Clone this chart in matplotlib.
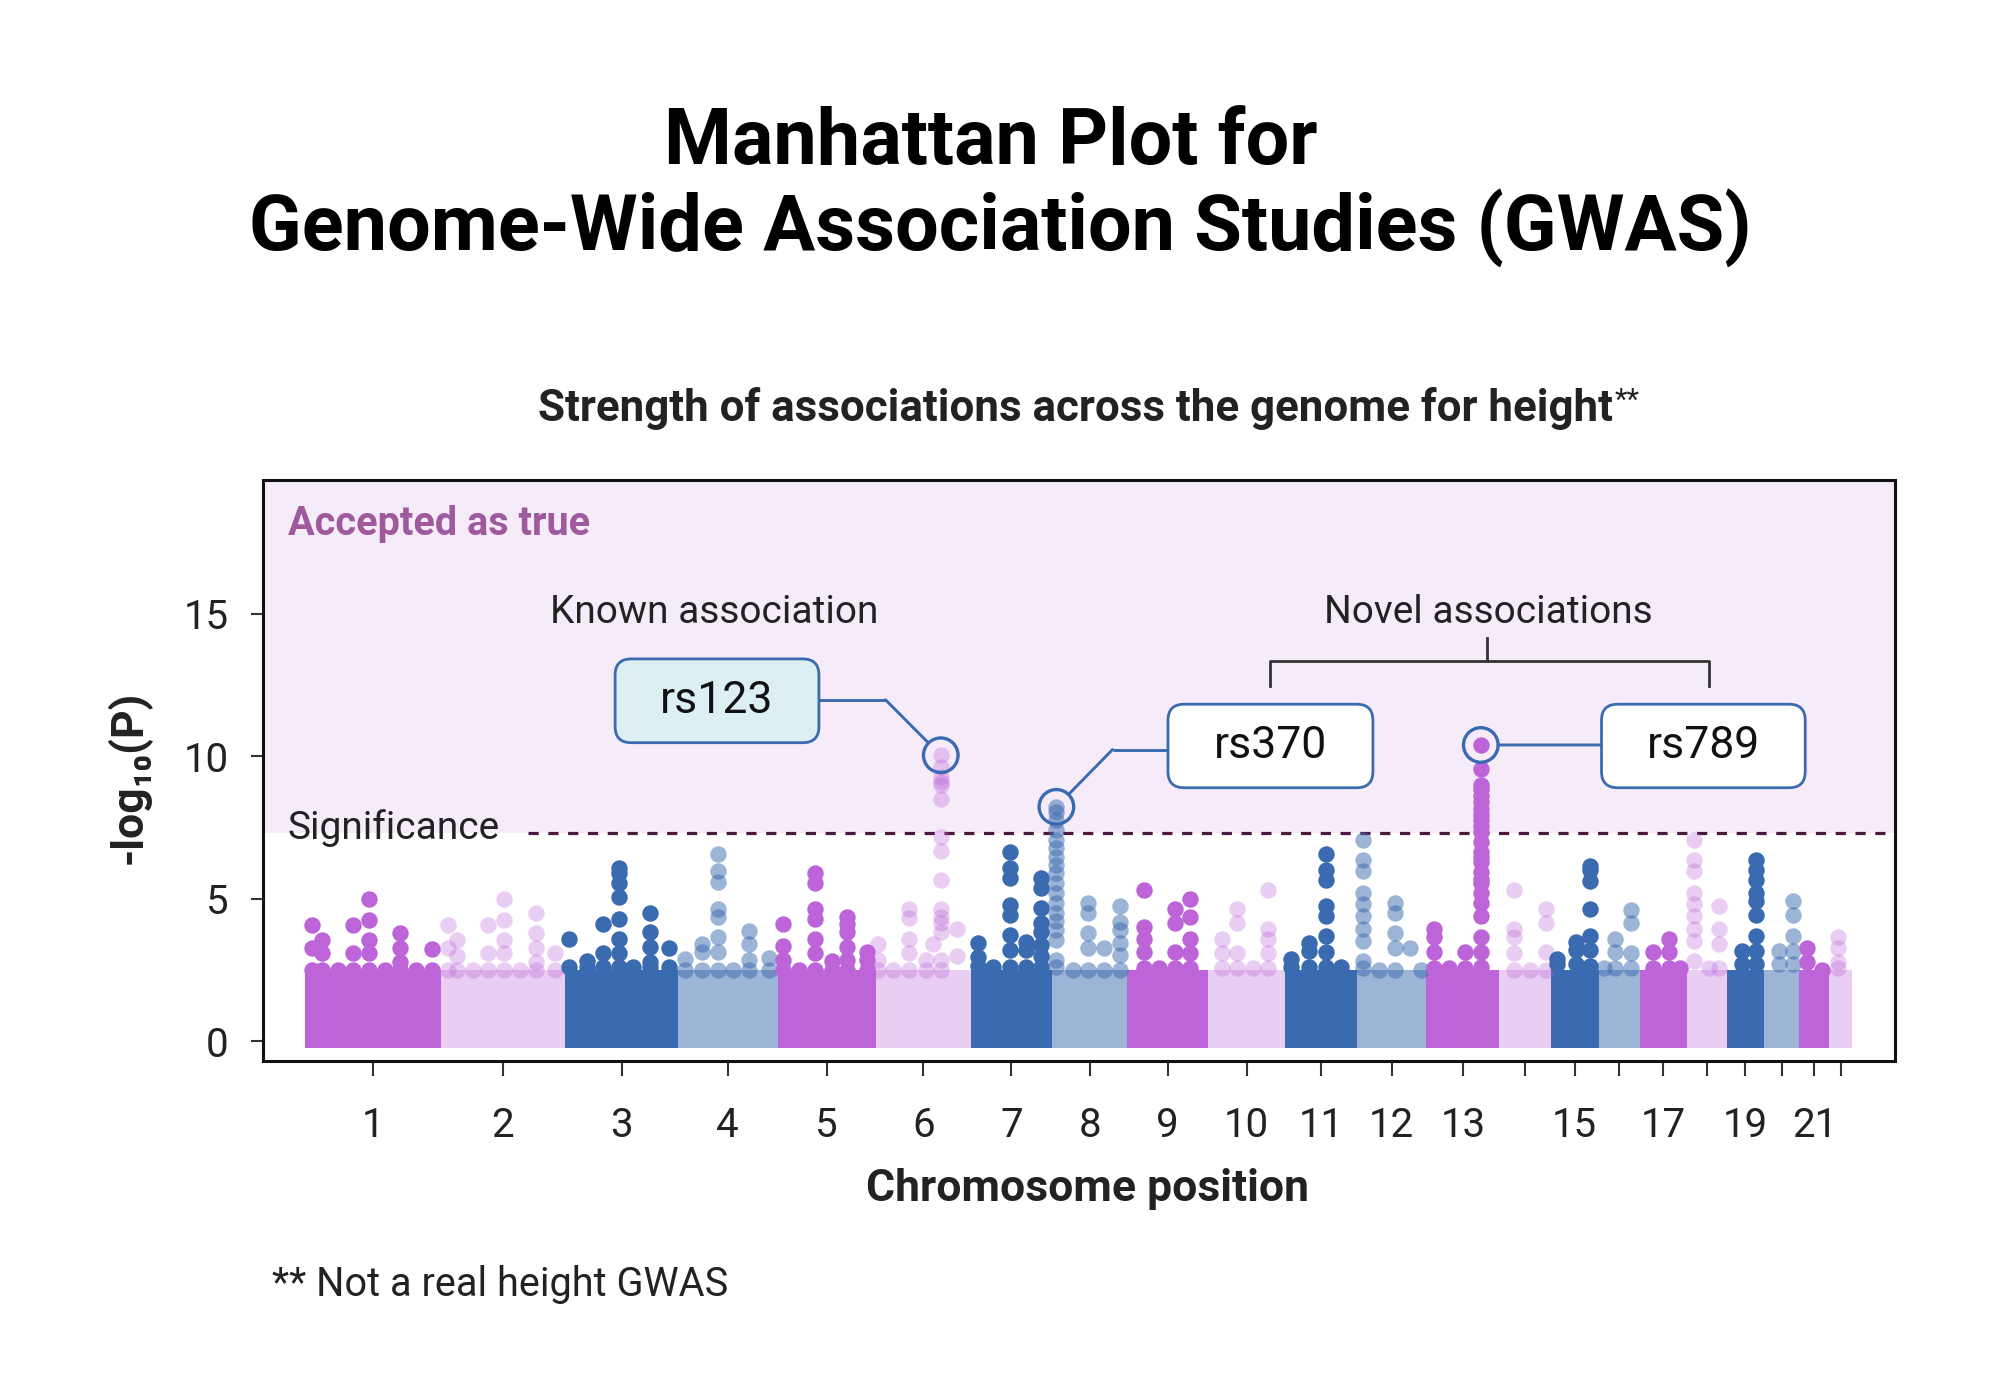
import matplotlib
matplotlib.use("Agg")
import matplotlib.pyplot as plt
from matplotlib.patches import FancyBboxPatch
from matplotlib.colors import to_rgba

plt.rcParams['font.family'] = ['Roboto', 'DejaVu Sans']

# ---------------- data ----------------
chrom_names = [str(i) for i in range(1, 23)]
chrom_len = [252, 232, 209, 186, 182, 177, 151, 140, 150, 143, 133, 130,
             135, 96, 89, 77, 87, 74, 69, 66, 56, 42]
tick_labels = ['1', '2', '3', '4', '5', '6', '7', '8', '9', '10', '11', '12',
               '13', '', '15', '', '17', '', '19', '', '21', '']
base_top = 2.5
base_bottom = -0.25
sig_threshold = 7.3

col_chrom = [1, 1, 1, 1, 1, 1, 1, 1, 1,
             2, 2, 2, 2, 2, 2, 2, 2,
             3, 3, 3, 3, 3, 3, 3,
             4, 4, 4, 4, 4, 4,
             5, 5, 5, 5, 5, 5,
             6, 6, 6, 6, 6, 6, 6,
             7, 7, 7, 7, 7,
             8, 8, 8, 8, 8,
             9, 9, 9, 9,
             10, 10, 10, 10,
             11, 11, 11, 11,
             12, 12, 12, 12, 12,
             13, 13, 13, 13,
             14, 14, 14,
             15, 15, 15,
             16, 16, 16,
             17, 17, 17,
             18, 18, 18,
             19, 19,
             20, 20,
             21, 21,
             22]
col_pos = [14, 31, 62, 90, 119, 149, 177, 206, 236,
           14, 31, 60, 89, 118, 147, 177, 212,
           7, 40, 70, 99, 126, 158, 192,
           14, 45, 74, 103, 133, 170,
           10, 40, 69, 100, 128, 166,
           4, 33, 62, 94, 107, 121, 151,
           14, 42, 72, 103, 131,
           8, 39, 67, 96, 127,
           31, 59, 89, 116,
           25, 53, 83, 112,
           11, 45, 76, 105,
           12, 41, 71, 100, 119,
           14, 42, 72, 101,
           28, 58, 88,
           12, 47, 73,
           10, 30, 61,
           24, 53, 74,
           14, 41, 60,
           28, 55,
           28, 55,
           14, 42,
           16]
col_logp = [
    [4.07, 3.25, 2.5], [3.54, 3.08, 2.5], [2.5], [4.07, 3.08, 2.5],
    [5.0, 4.25, 3.54, 3.08, 2.5], [2.5], [3.8, 3.25, 2.78, 2.5], [2.5], [3.24, 2.5],
    [4.07, 3.25, 2.5], [3.54, 3.0, 2.5], [2.5], [4.07, 3.08, 2.5],
    [4.97, 4.25, 3.54, 3.08, 2.5], [2.5], [4.5, 3.78, 3.25, 2.78, 2.5], [3.08, 2.5],
    [3.6, 2.6], [2.8, 2.6], [4.1, 3.08, 2.6], [6.06, 5.9, 5.53, 5.04, 4.3, 3.57, 3.08, 2.6],
    [2.6], [4.48, 3.84, 3.31, 2.78, 2.6], [3.25, 2.6],
    [2.88, 2.5], [3.4, 3.13, 2.5], [6.58, 5.96, 5.59, 4.65, 4.36, 3.64, 3.13, 2.5],
    [2.5], [3.87, 3.39, 2.85, 2.5], [2.9, 2.5],
    [4.1, 3.35, 2.85, 2.5], [2.5], [5.9, 5.53, 4.65, 4.3, 3.6, 3.1, 2.5], [2.8, 2.5],
    [4.36, 4.1, 3.84, 3.31, 2.85, 2.5], [3.13, 2.85, 2.5],
    [3.39, 2.85, 2.5], [2.5], [4.65, 4.32, 3.6, 3.1, 2.5], [2.85, 2.5], [3.4],
    [10.03, 9.6, 9.27, 9.1, 8.98, 8.48, 7.17, 6.67, 5.65, 4.65, 4.36, 4.15, 3.84, 2.85, 2.5],
    [3.95, 3.0],
    [3.45, 2.95, 2.65], [2.6], [6.64, 6.06, 5.71, 4.77, 4.42, 3.72, 3.19, 2.6],
    [3.49, 3.19, 2.6], [5.71, 5.36, 4.66, 4.13, 3.84, 3.37, 2.98, 2.6],
    [8.22, 8.05, 7.76, 7.41, 7.06, 6.77, 6.47, 6.18, 5.89, 5.54, 5.19, 4.84, 4.49,
     4.2, 3.9, 3.55, 2.85, 2.6],
    [2.5], [4.84, 4.49, 3.78, 3.25, 2.5], [3.25, 2.5], [4.75, 4.17, 3.9, 3.43, 3.02, 2.5],
    [5.3, 4.01, 3.6, 3.13, 2.55], [2.55], [4.65, 4.15, 3.13, 2.55], [5.0, 4.36, 3.6, 3.1, 2.55],
    [3.6, 3.1, 2.55], [4.65, 4.15, 3.1, 2.55], [2.55], [5.3, 3.95, 3.6, 3.1, 2.55],
    [2.88, 2.6], [3.45, 3.17, 2.6], [6.58, 6.0, 5.64, 4.73, 4.4, 3.68, 3.13, 2.6], [2.6],
    [7.05, 6.37, 5.98, 5.2, 4.81, 4.39, 3.95, 3.51, 2.81, 2.55], [2.5],
    [4.84, 4.51, 3.78, 3.25, 2.5], [3.25], [2.5],
    [3.95, 3.64, 3.13, 2.55], [2.55], [3.13, 2.55],
    [10.39, 9.55, 9.0, 8.85, 8.6, 8.4, 8.15, 7.95, 7.75, 7.55, 7.35, 7.0, 6.65, 6.45,
     6.3, 5.95, 5.7, 5.55, 5.2, 4.85, 4.4, 3.65, 3.12, 2.6],
    [5.3, 3.95, 3.64, 3.1, 2.5], [2.5], [4.65, 4.13, 3.13, 2.5],
    [2.88, 2.7], [3.49, 3.19, 2.7], [6.14, 6.0, 5.61, 4.63, 3.68, 3.19, 2.65],
    [2.55], [3.6, 3.13, 2.55], [4.6, 4.13, 3.1, 2.55],
    [3.13, 2.55], [3.6, 3.13, 2.55], [2.55],
    [7.05, 6.37, 5.98, 5.2, 4.81, 4.4, 3.95, 3.5, 2.81], [2.55], [4.73, 3.95, 3.39, 2.55],
    [3.17, 2.7], [6.37, 6.0, 5.64, 5.18, 4.9, 4.43, 3.69, 3.17, 2.7],
    [3.17, 2.7], [4.9, 4.43, 3.69, 3.17, 2.7],
    [3.28, 2.78], [2.49],
    [3.64, 3.25, 2.78, 2.55],
]

hl_names = ['rs123', 'rs370', 'rs789']
hl_chrom = [6, 8, 13]
hl_pos = [121, 8, 101]
hl_logp = [10.03, 8.22, 10.39]

# ---------------- style ----------------
MAG = '#BD64D9'
BLUE = '#3A6AAF'
palette = [to_rgba(MAG, 1.0), to_rgba(MAG, 0.32), to_rgba(BLUE, 1.0), to_rgba(BLUE, 0.5)]
TXT = '#222222'
SHADE = '#F6EBF8'

fig = plt.figure(figsize=(20, 14), dpi=100)
ax = fig.add_axes([0.1315, 0.2419, 0.816, 0.4155])

starts = []
acc = 0
for L in chrom_len:
    starts.append(acc)
    acc += L
total = acc
centers = [s + L / 2 for s, L in zip(starts, chrom_len)]

xmin, xmax = -78, total + 80
ymin, ymax = -0.71, 19.7
ax.set_xlim(xmin, xmax)
ax.set_ylim(ymin, ymax)

# shaded region + significance line
ax.axhspan(sig_threshold, ymax, color=SHADE, zorder=0, lw=0)
ax.plot([415, xmax], [sig_threshold, sig_threshold], color='#4A1942', lw=2.3,
        dashes=(3.2, 3.0), zorder=1)

# base blocks
for i, (s, L) in enumerate(zip(starts, chrom_len)):
    ax.bar(s, base_top - base_bottom, width=L, bottom=base_bottom, align='edge',
           color=palette[i % 4], lw=0, zorder=2)

# points
for c, p, vals in zip(col_chrom, col_pos, col_logp):
    x = starts[c - 1] + p
    ax.scatter([x] * len(vals), vals, s=140, color=palette[(c - 1) % 4], lw=0, zorder=3)

# highlight circles
hx = [starts[c - 1] + p for c, p in zip(hl_chrom, hl_pos)]
ax.scatter(hx, hl_logp, s=620, facecolor='none', edgecolor=BLUE, lw=2.4, zorder=5)

# annotation boxes
ax_w_px = 0.816 * 2000
ax_h_px = 0.4155 * 1400
aspect = ((ymax - ymin) / ax_h_px) / ((xmax - xmin) / ax_w_px)


def label_box(x0, y0, w, h, text, fc):
    patch = FancyBboxPatch((x0, y0), w, h, boxstyle='round,pad=0,rounding_size=30',
                           mutation_aspect=aspect, fc=fc, ec=BLUE, lw=2.0, zorder=6)
    ax.add_patch(patch)
    ax.text(x0 + w / 2, y0 + h / 2, text, ha='center', va='center', fontsize=32,
            color='#111111', zorder=7)


label_box(576.6, 10.47, 378.9, 2.94, hl_names[0], '#DCEFF3')
label_box(1604.4, 8.89, 381.0, 2.93, hl_names[1], 'white')
label_box(2410.4, 8.89, 378.7, 2.93, hl_names[2], 'white')

# connectors
CLW = 2.1
ax.plot([955.5, 1079], [11.98, 11.98], color=BLUE, lw=CLW, zorder=4, solid_capstyle='butt')
ax.annotate('', xy=(hx[0], hl_logp[0]), xytext=(1079, 11.98),
            arrowprops=dict(arrowstyle='-', color=BLUE, lw=CLW, shrinkA=0, shrinkB=12.5),
            zorder=4)
ax.plot([1604.4, 1501.4], [10.23, 10.23], color=BLUE, lw=CLW, zorder=4, solid_capstyle='butt')
ax.annotate('', xy=(hx[1], hl_logp[1]), xytext=(1501.4, 10.23),
            arrowprops=dict(arrowstyle='-', color=BLUE, lw=CLW, shrinkA=0, shrinkB=12.5),
            zorder=4)
ax.annotate('', xy=(hx[2], hl_logp[2]), xytext=(2410.4, hl_logp[2]),
            arrowprops=dict(arrowstyle='-', color=BLUE, lw=CLW, shrinkA=0, shrinkB=12.5),
            zorder=4)

# bracket for novel associations
ax.plot([1794.5, 1794.5, 2609.6, 2609.6], [12.47, 13.32, 13.32, 12.47], color='#333333',
        lw=2.0, zorder=4)
ax.plot([2197, 2197], [13.32, 14.13], color='#333333', lw=2.0, zorder=4)

ax.text(761.7, 14.67, 'Known association', ha='center', va='baseline', fontsize=28,
        color=TXT, zorder=7)
ax.text(2200, 14.67, 'Novel associations', ha='center', va='baseline', fontsize=28,
        color=TXT, zorder=7)
ax.text(-32, 17.75, 'Accepted as true', ha='left', va='baseline', fontsize=28.5,
        fontweight='bold', color='#9E5A9C', zorder=7)
ax.text(-32, 7.09, 'Significance', ha='left', va='baseline', fontsize=28,
        color=TXT, zorder=7)

# axes styling
for sp in ax.spines.values():
    sp.set_linewidth(2.2)
    sp.set_color('#111111')
ax.set_xticks(centers)
ax.set_xticklabels(tick_labels)
ax.set_yticks([0, 5, 10, 15])
ax.tick_params(axis='x', length=10.8, width=1.5, pad=21, labelsize=29, colors='#333333',
               labelcolor=TXT)
ax.tick_params(axis='y', length=8.6, width=1.5, pad=16, labelsize=29, colors='#333333',
               labelcolor=TXT)

# titles and labels
fig.text(0.4955, 0.883, 'Manhattan Plot for', ha='center', va='baseline', fontsize=55.8,
         fontweight='bold', color='#000000')
fig.text(0.5, 0.8214, 'Genome-Wide Association Studies (GWAS)', ha='center', va='baseline',
         fontsize=55.8, fontweight='bold', color='#000000')
sub = fig.text(0.538, 0.699, 'Strength of associations across the genome for height',
               ha='center', va='baseline', fontsize=31.6, fontweight='bold', color=TXT)
fig.canvas.draw()
bb = sub.get_window_extent()
fig.text((bb.x1 + 1) / 2000, 0.699 + 13 / 1400, '**', ha='left', va='baseline', fontsize=21,
         color=TXT)

fig.text(0.544, 0.1425, 'Chromosome position', ha='center', va='baseline', fontsize=32,
         fontweight='bold', color=TXT)
fig.text(0.0645, 0.445, '-log₁₀(P)', ha='center', va='center', rotation=90, fontsize=32,
         fontweight='bold', color=TXT)
fig.text(0.136, 0.0745, '** Not a real height GWAS', ha='left', va='baseline', fontsize=28.5,
         color=TXT)

fig.savefig('out.png', dpi=100, facecolor='white')
